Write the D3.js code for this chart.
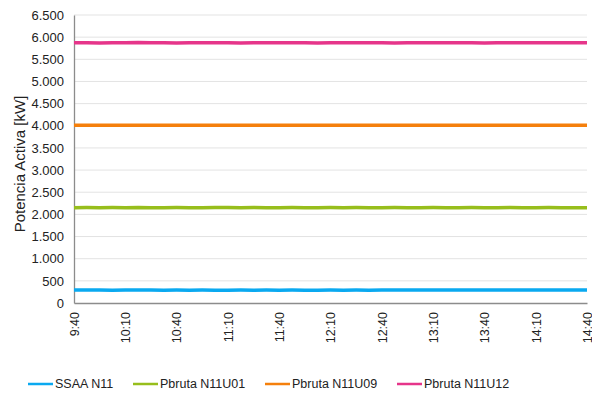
<!DOCTYPE html>
<html><head><meta charset="utf-8">
<script src="https://cdn.jsdelivr.net/npm/d3@7"></script>
<style>body{margin:0;background:#fff;}svg{display:block;font-family:"Liberation Sans",Arial,sans-serif;}</style>
</head><body><div id="chart"></div>
<script>
const seriesNames = ["SSAA N11","Pbruta N11U01","Pbruta N11U09","Pbruta N11U12"];
const seriesColors = ["#0AA9F0","#97BE1C","#F5800C","#E6358A"];
const xTickLabels = ["9:40","10:10","10:40","11:10","11:40","12:10","12:40","13:10","13:40","14:10","14:40"];
const yTicks = [0,500,1000,1500,2000,2500,3000,3500,4000,4500,5000,5500,6000,6500];
// minutes after 9:40, sampled every 7.5 min (41 samples)
const sampleMinutes = [0,7.5,15,22.5,30,37.5,45,52.5,60,67.5,75,82.5,90,97.5,105,112.5,120,127.5,135,142.5,150,157.5,165,172.5,180,187.5,195,202.5,210,217.5,225,232.5,240,247.5,255,262.5,270,277.5,285,292.5,300];
const ssaa = [292,293,291,290,292,291,291,290,291,290,291,290,290,291,290,291,290,291,290,290,291,290,291,290,291,292,291,292,291,292,292,291,292,292,293,292,292,293,292,292,292];
const u01 = [2152,2154,2150,2153,2151,2155,2152,2150,2154,2152,2151,2154,2153,2152,2155,2151,2152,2154,2150,2152,2154,2151,2153,2152,2150,2154,2152,2152,2154,2151,2152,2153,2151,2152,2154,2152,2150,2153,2152,2151,2152];
const u09 = [4010,4012,4009,4011,4010,4013,4010,4009,4011,4012,4010,4010,4012,4009,4011,4010,4012,4010,4011,4010,4009,4011,4012,4010,4010,4012,4009,4011,4010,4012,4010,4010,4011,4009,4012,4010,4010,4011,4010,4009,4010];
const u12 = [5872,5875,5870,5874,5872,5877,5871,5874,5870,5876,5873,5872,5874,5869,5873,5875,5871,5874,5872,5870,5874,5873,5871,5874,5872,5870,5874,5873,5871,5874,5876,5872,5870,5874,5872,5874,5871,5873,5872,5874,5872];
const seriesValues = [ssaa,u01,u09,u12];

const W=592,H=399;
const m={l:74,r:5,t:15,b:96};
const svg=d3.select("#chart").append("svg").attr("width",W).attr("height",H);
const x=d3.scaleLinear().domain([0,300]).range([m.l,W-m.r]);
const y=d3.scaleLinear().domain([0,6500]).range([H-m.b,m.t]);

// gridlines
svg.append("g").selectAll("line").data(yTicks.filter(d=>d>0)).join("line")
  .attr("x1",m.l).attr("x2",W-m.r).attr("y1",d=>y(d)).attr("y2",d=>y(d))
  .attr("stroke","#e3e3e3").attr("stroke-width",1);

// y axis
const ya=svg.append("g").attr("transform",`translate(${m.l},0)`)
  .call(d3.axisLeft(y).tickValues(yTicks).tickSize(0).tickPadding(10)
    .tickFormat(d=>d3.format(",")(d).replace(/,/g,".")));
ya.select(".domain").attr("stroke","#8c8c8c").attr("stroke-width",1.3);
ya.selectAll("text").attr("font-size","13px").attr("fill","#222").attr("font-family","Liberation Sans, Arial, sans-serif");

// x axis
const xa=svg.append("g").attr("transform",`translate(0,${H-m.b})`)
  .call(d3.axisBottom(x).tickValues(d3.range(0,301,30)).tickSize(0)
    .tickFormat((d,i)=>xTickLabels[i]));
xa.select(".domain").attr("stroke","#8c8c8c").attr("stroke-width",1.3);
xa.selectAll("text").attr("font-size","12.5px").attr("fill","#222").attr("font-family","Liberation Sans, Arial, sans-serif")
  .attr("transform","rotate(-90)").attr("text-anchor","end").attr("dy","0.35em").attr("x",-9).attr("y",0);

// lines
const line=d3.line().x((d,i)=>x(sampleMinutes[i])).y(d=>y(d));
svg.append("g").selectAll("path").data(seriesValues).join("path")
  .attr("d",line).attr("fill","none").attr("stroke",(d,i)=>seriesColors[i]).attr("stroke-width",3.5);

// y title
svg.append("text").attr("transform",`translate(20,164) rotate(-90)`)
  .attr("text-anchor","middle").attr("dy","0.35em").attr("font-size","15px").attr("fill","#222").text("Potencia Activa [kW]");

// legend
const legX=[28,133,265,397];
const lg=svg.append("g").selectAll("g").data(seriesNames).join("g")
  .attr("transform",(d,i)=>`translate(${legX[i]},384)`);
lg.append("line").attr("x1",0).attr("x2",25).attr("y1",0).attr("y2",0)
  .attr("stroke",(d,i)=>seriesColors[i]).attr("stroke-width",2.5);
lg.append("text").attr("x",27).attr("y",0).attr("dy","0.35em").attr("font-size","12.5px").attr("fill","#222").text(d=>d);
</script></body></html>
